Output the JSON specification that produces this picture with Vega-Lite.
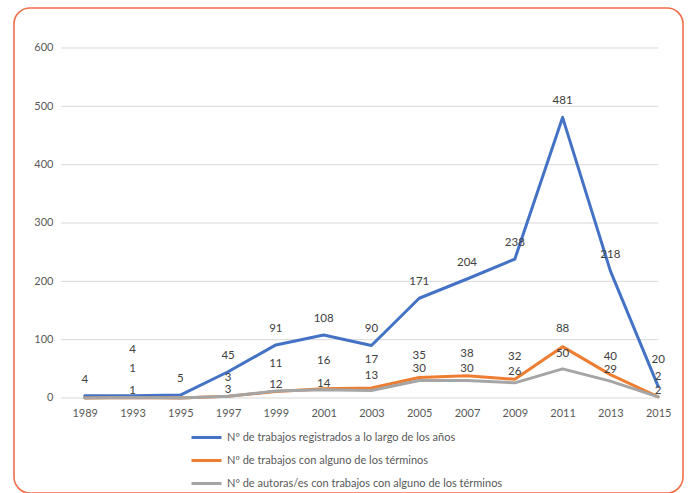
{
  "$schema": "https://vega.github.io/schema/vega-lite/v6.json",
  "width": 669,
  "height": 485,
  "autosize": {"type": "none"},
  "padding": {"left": 14, "top": 8, "right": 6, "bottom": 0},
  "background": "white",
  "config": {
    "view": {"stroke": "#F06E4A", "strokeWidth": 1.6, "cornerRadius": 16},
    "font": "Lato",
    "axis": {"labelFont": "Lato", "labelColor": "#595959", "labelFontSize": 11},
    "legend": {"labelFont": "Lato"}
  },
  "data": {
    "values": [
      {"year": "1989", "series": "Nº de trabajos registrados a lo largo de los años", "value": 4},
      {"year": "1993", "series": "Nº de trabajos registrados a lo largo de los años", "value": 4},
      {"year": "1995", "series": "Nº de trabajos registrados a lo largo de los años", "value": 5},
      {"year": "1997", "series": "Nº de trabajos registrados a lo largo de los años", "value": 45},
      {"year": "1999", "series": "Nº de trabajos registrados a lo largo de los años", "value": 91},
      {"year": "2001", "series": "Nº de trabajos registrados a lo largo de los años", "value": 108},
      {"year": "2003", "series": "Nº de trabajos registrados a lo largo de los años", "value": 90},
      {"year": "2005", "series": "Nº de trabajos registrados a lo largo de los años", "value": 171},
      {"year": "2007", "series": "Nº de trabajos registrados a lo largo de los años", "value": 204},
      {"year": "2009", "series": "Nº de trabajos registrados a lo largo de los años", "value": 238},
      {"year": "2011", "series": "Nº de trabajos registrados a lo largo de los años", "value": 481},
      {"year": "2013", "series": "Nº de trabajos registrados a lo largo de los años", "value": 218},
      {"year": "2015", "series": "Nº de trabajos registrados a lo largo de los años", "value": 20},
      {"year": "1989", "series": "Nº de trabajos con alguno de los términos", "value": 0},
      {"year": "1993", "series": "Nº de trabajos con alguno de los términos", "value": 1},
      {"year": "1995", "series": "Nº de trabajos con alguno de los términos", "value": 0},
      {"year": "1997", "series": "Nº de trabajos con alguno de los términos", "value": 3},
      {"year": "1999", "series": "Nº de trabajos con alguno de los términos", "value": 11},
      {"year": "2001", "series": "Nº de trabajos con alguno de los términos", "value": 16},
      {"year": "2003", "series": "Nº de trabajos con alguno de los términos", "value": 17},
      {"year": "2005", "series": "Nº de trabajos con alguno de los términos", "value": 35},
      {"year": "2007", "series": "Nº de trabajos con alguno de los términos", "value": 38},
      {"year": "2009", "series": "Nº de trabajos con alguno de los términos", "value": 32},
      {"year": "2011", "series": "Nº de trabajos con alguno de los términos", "value": 88},
      {"year": "2013", "series": "Nº de trabajos con alguno de los términos", "value": 40},
      {"year": "2015", "series": "Nº de trabajos con alguno de los términos", "value": 2},
      {"year": "1989", "series": "Nº de autoras/es con trabajos con alguno de los términos", "value": 0},
      {"year": "1993", "series": "Nº de autoras/es con trabajos con alguno de los términos", "value": 1},
      {"year": "1995", "series": "Nº de autoras/es con trabajos con alguno de los términos", "value": 0},
      {"year": "1997", "series": "Nº de autoras/es con trabajos con alguno de los términos", "value": 3},
      {"year": "1999", "series": "Nº de autoras/es con trabajos con alguno de los términos", "value": 12},
      {"year": "2001", "series": "Nº de autoras/es con trabajos con alguno de los términos", "value": 14},
      {"year": "2003", "series": "Nº de autoras/es con trabajos con alguno de los términos", "value": 13},
      {"year": "2005", "series": "Nº de autoras/es con trabajos con alguno de los términos", "value": 30},
      {"year": "2007", "series": "Nº de autoras/es con trabajos con alguno de los términos", "value": 30},
      {"year": "2009", "series": "Nº de autoras/es con trabajos con alguno de los términos", "value": 26},
      {"year": "2011", "series": "Nº de autoras/es con trabajos con alguno de los términos", "value": 50},
      {"year": "2013", "series": "Nº de autoras/es con trabajos con alguno de los términos", "value": 29},
      {"year": "2015", "series": "Nº de autoras/es con trabajos con alguno de los términos", "value": 2}
    ]
  },
  "encoding": {
    "x": {
      "field": "year", "type": "nominal",
      "scale": {"type": "point", "padding": 1.054, "align": 0.74},
      "axis": {"title": null, "orient": "bottom", "offset": -95, "domain": false, "ticks": false, "labelPadding": 9, "labelAngle": 0, "grid": false}
    },
    "y": {
      "field": "value", "type": "quantitative",
      "scale": {"domain": [-162.86, 668.57], "nice": false, "zero": false},
      "axis": {"title": null, "values": [0, 100, 200, 300, 400, 500, 600], "offset": -43, "labelPadding": 4, "domain": false, "ticks": false, "grid": false}
    }
  },
  "layer": [
    {
      "data": {"values": [{"tick": 0}, {"tick": 100}, {"tick": 200}, {"tick": 300}, {"tick": 400}, {"tick": 500}, {"tick": 600}]},
      "mark": {"type": "rule", "color": "#D9D9D9", "strokeWidth": 1},
      "encoding": {
        "x": {"datum": "1989", "type": "nominal"},
        "x2": {"datum": "2015"},
        "xOffset": {"value": -23.7},
        "x2Offset": {"value": 23.7},
        "y": {"field": "tick", "type": "quantitative"}
      }
    },
    {
      "mark": {"type": "line", "strokeWidth": 3, "strokeCap": "round", "strokeJoin": "round"},
      "encoding": {
        "color": {
          "field": "series", "type": "nominal",
          "scale": {
            "domain": ["Nº de trabajos registrados a lo largo de los años", "Nº de trabajos con alguno de los términos", "Nº de autoras/es con trabajos con alguno de los términos"],
            "range": ["#4472C4", "#ED7D31", "#A5A5A5"]
          },
          "legend": {
            "title": null, "orient": "none", "legendX": 176, "legendY": 413,
            "direction": "vertical", "symbolType": "stroke", "symbolSize": 900, "symbolStrokeWidth": 3,
            "rowPadding": -7, "labelOffset": 4, "labelFontSize": 11, "labelColor": "#595959", "padding": 0, "labelLimit": 500
          }
        },
        "order": {"field": "series"}
      }
    },
    {
      "transform": [{"filter": "datum.series == 'Nº de trabajos registrados a lo largo de los años' && datum.value > 0"}],
      "mark": {"type": "text", "fontSize": 11.5, "color": "#404040",
        "dy": {"expr": "datum.year == '1993' ? -46 : (datum.year == '2015' ? -26 : -16)"}},
      "encoding": {"text": {"field": "value", "type": "quantitative"}}
    },
    {
      "transform": [{"filter": "datum.series == 'Nº de trabajos con alguno de los términos' && datum.value > 0"}],
      "mark": {"type": "text", "fontSize": 11.5, "color": "#404040",
        "dy": {"expr": "indexof(['1993','1999','2001','2003'], datum.year) >= 0 ? -28 : (indexof(['2005','2007','2009'], datum.year) >= 0 ? -22 : (datum.year == '2015' ? -20 : -18))"}},
      "encoding": {"text": {"field": "value", "type": "quantitative"}}
    },
    {
      "transform": [{"filter": "datum.series == 'Nº de autoras/es con trabajos con alguno de los términos' && datum.value > 0"}],
      "mark": {"type": "text", "fontSize": 11.5, "color": "#404040",
        "dy": {"expr": "datum.year == '2003' ? -14 : (datum.year == '2011' ? -15 : (indexof(['2005','2007','2009','2013'], datum.year) >= 0 ? -11 : -6))"}},
      "encoding": {"text": {"field": "value", "type": "quantitative"}}
    }
  ]
}
